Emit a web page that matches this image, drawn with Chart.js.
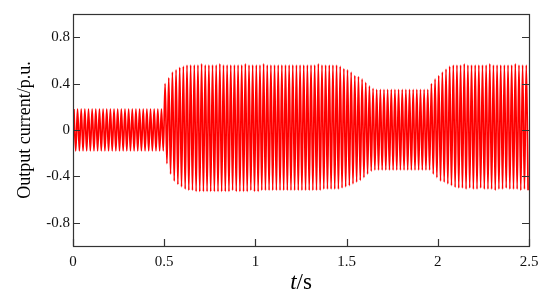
<!DOCTYPE html>
<html>
<head>
<meta charset="utf-8">
<script src="https://cdn.jsdelivr.net/npm/chart.js@4/dist/chart.umd.min.js"></script>
<style>
  html, body { margin: 0; padding: 0; background: #fff; }
  #wrap { width: 550px; height: 303px; position: relative; }
</style>
</head>
<body>
<div id="wrap"><canvas id="c" width="550" height="303"></canvas></div>
<script>
// ---- data ----
// one 50 Hz cycle = 0.02 s; positive peak and negative peak of every cycle (p.u.)
const cyclePeriod = 0.02;
const posPeak = [
  // 0 - 0.5 s
  0.18,0.18,0.18,0.18,0.18,0.18,0.18,0.18,0.18,0.18,0.18,0.18,0.18,0.18,0.18,0.18,0.18,0.18,0.18,0.18,0.18,0.18,0.18,0.18,0.18,
  // 0.5 - 1.0 s
  0.40,0.45,0.50,0.52,0.54,0.55,0.56,0.56,0.56,0.56,0.57,0.56,0.56,0.56,0.56,0.57,0.56,0.56,0.56,0.56,0.56,0.56,0.57,0.56,0.56,
  // 1.0 - 1.5 s
  0.56,0.56,0.57,0.56,0.56,0.56,0.56,0.56,0.56,0.56,0.56,0.56,0.56,0.56,0.56,0.56,0.56,0.57,0.56,0.56,0.56,0.56,0.56,0.55,0.53,
  // 1.5 - 2.0 s
  0.52,0.50,0.47,0.46,0.44,0.41,0.38,0.36,0.35,0.35,0.35,0.35,0.35,0.35,0.35,0.35,0.35,0.35,0.35,0.35,0.35,0.35,0.35,0.40,0.44,
  // 2.0 - 2.5 s
  0.47,0.50,0.525,0.55,0.56,0.56,0.56,0.57,0.56,0.56,0.56,0.56,0.56,0.56,0.57,0.56,0.56,0.56,0.56,0.56,0.56,0.57,0.56,0.56,0.56
];
const negPeak = [
  -0.18,-0.18,-0.18,-0.18,-0.18,-0.18,-0.18,-0.18,-0.18,-0.18,-0.18,-0.18,-0.18,-0.18,-0.18,-0.18,-0.18,-0.18,-0.18,-0.18,-0.18,-0.18,-0.18,-0.18,-0.18,
  -0.29,-0.38,-0.44,-0.47,-0.49,-0.51,-0.52,-0.52,-0.53,-0.53,-0.53,-0.53,-0.53,-0.53,-0.53,-0.53,-0.53,-0.53,-0.52,-0.53,-0.53,-0.53,-0.53,-0.52,-0.53,
  -0.53,-0.52,-0.52,-0.52,-0.52,-0.52,-0.52,-0.52,-0.52,-0.52,-0.52,-0.52,-0.52,-0.52,-0.52,-0.52,-0.52,-0.52,-0.51,-0.51,-0.51,-0.51,-0.51,-0.50,-0.49,
  -0.48,-0.465,-0.45,-0.435,-0.41,-0.38,-0.355,-0.345,-0.345,-0.345,-0.345,-0.345,-0.345,-0.345,-0.345,-0.345,-0.345,-0.345,-0.345,-0.345,-0.345,-0.345,-0.345,-0.38,-0.41,
  -0.44,-0.45,-0.465,-0.48,-0.495,-0.50,-0.50,-0.51,-0.50,-0.51,-0.51,-0.50,-0.51,-0.51,-0.51,-0.52,-0.51,-0.51,-0.50,-0.51,-0.51,-0.51,-0.52,-0.51,-0.52
];
const xTicks = [0, 0.5, 1, 1.5, 2, 2.5];
const yTicks = [-0.8, -0.4, 0, 0.4, 0.8];
const yTitle = 'Output current/p.u.';
const xTitleItalic = 't';
const xTitleRest = '/s';

// build point list: positive peak at quarter cycle, negative at three quarters
const points = [];
for (let k = 0; k < posPeak.length; k++) {
  points.push({ x: (k + 0.25) * cyclePeriod, y: posPeak[k] });
  points.push({ x: (k + 0.75) * cyclePeriod, y: negPeak[k] });
}

const FONT = "'Liberation Serif', 'Times New Roman', serif";

const boxAndTicks = {
  id: 'boxAndTicks',
  afterDraw(chart) {
    const { ctx, chartArea: a, scales } = chart;
    ctx.save();
    ctx.strokeStyle = '#333';
    ctx.lineWidth = 1.2;
    ctx.strokeRect(Math.round(a.left) + 0.5, Math.round(a.top) + 0.5,
                   Math.round(a.right - a.left), Math.round(a.bottom - a.top));
    ctx.beginPath();
    const L = 7;
    yTicks.forEach(v => {
      const y = Math.round(scales.y.getPixelForValue(v)) + 0.5;
      ctx.moveTo(a.left, y); ctx.lineTo(a.left + L, y);
      ctx.moveTo(a.right, y); ctx.lineTo(a.right - L, y);
    });
    xTicks.forEach(v => {
      const x = Math.round(scales.x.getPixelForValue(v)) + 0.5;
      ctx.moveTo(x, a.bottom); ctx.lineTo(x, a.bottom - L);
    });
    ctx.stroke();
    // x axis title: italic t, upright /s
    const f1 = "italic 23px " + FONT, f2 = "23px " + FONT;
    ctx.fillStyle = '#000';
    ctx.font = f1; const w1 = ctx.measureText(xTitleItalic).width;
    ctx.font = f2; const w2 = ctx.measureText(xTitleRest).width;
    const cx = (a.left + a.right) / 2;
    const x0 = cx - (w1 + w2) / 2;
    const base = 289;
    ctx.textBaseline = 'alphabetic';
    ctx.textAlign = 'left';
    ctx.font = f1; ctx.fillText(xTitleItalic, x0, base);
    ctx.font = f2; ctx.fillText(xTitleRest, x0 + w1, base);
    ctx.restore();
  }
};

new Chart(document.getElementById('c'), {
  type: 'line',
  data: {
    datasets: [{
      data: points,
      borderColor: '#ff0000',
      borderWidth: 1.7,
      pointRadius: 0,
      cubicInterpolationMode: 'monotone',
      fill: false
    }]
  },
  options: {
    responsive: false,
    animation: false,
    layout: { padding: { left: 0, top: 14, right: 21, bottom: 0 } },
    plugins: { legend: { display: false }, tooltip: { enabled: false } },
    scales: {
      x: {
        type: 'linear',
        min: 0, max: 2.5,
        afterBuildTicks: s => { s.ticks = xTicks.map(v => ({ value: v })); },
        afterFit: s => { s.height = 57; },
        grid: { display: false, drawTicks: false },
        border: { display: false },
        ticks: {
          padding: 7,
          color: '#111',
          font: { family: FONT, size: 15 },
          maxRotation: 0,
          callback: v => String(v)
        }
      },
      y: {
        type: 'linear',
        min: -1, max: 1,
        afterBuildTicks: s => { s.ticks = yTicks.map(v => ({ value: v })); },
        afterFit: s => { s.width = 73; },
        grid: { display: false, drawTicks: false },
        border: { display: false },
        ticks: {
          padding: 3,
          color: '#111',
          font: { family: FONT, size: 15 },
          callback: v => String(v)
        },
        title: {
          display: true,
          text: yTitle,
          color: '#000',
          font: { family: FONT, size: 18, lineHeight: 1.2 },
          padding: { top: 14, bottom: 0 }
        }
      }
    }
  },
  plugins: [boxAndTicks]
});
</script>
</body>
</html>
